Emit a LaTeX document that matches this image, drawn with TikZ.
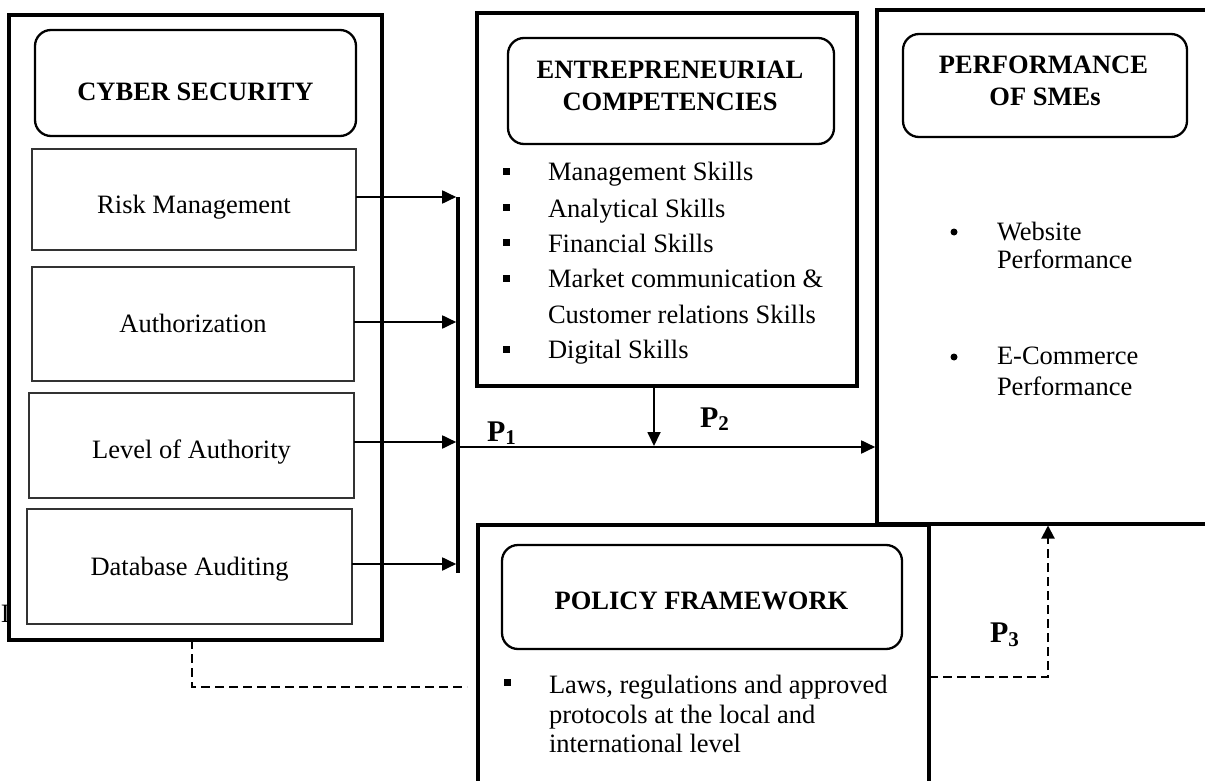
\documentclass[tikz,border=0pt]{standalone}
\usepackage{fontspec}
\setmainfont{Liberation Serif}
\usetikzlibrary{arrows.meta}
\begin{document}
\begin{tikzpicture}[x=1pt,y=-1pt,
  every node/.style={font=\fontsize{26.5}{35}\selectfont, inner sep=0pt, outer sep=0pt},
  frame/.style={draw, line width=3.5pt},
  titlebox/.style={draw, line width=2.3pt, rounded corners=16pt},
  titletext/.style={anchor=base, font=\fontsize{26.5}{32}\selectfont\bfseries},
  itembox/.style={draw=black!80, line width=1.3pt},
  itemtext/.style={anchor=base},
  listtext/.style={anchor=base west},
  sqbullet/.style={fill, minimum size=7pt},
  dotbullet/.style={fill, circle, minimum size=7pt},
  conn/.style={line width=1.8pt, -{Triangle[length=14pt,width=13pt]}},
  dashconn/.style={line width=1.6pt, dash pattern=on 9pt off 5pt},
  plabel/.style={anchor=base west, font=\fontsize{30}{30}\selectfont\bfseries},
]
\useasboundingbox (0,0) rectangle (1205,781);
\clip (0,0) rectangle (1205,781);

% stray glyph peeking out at the left edge
\node[listtext] (strayglyph) at (1,622) {I};

% ---- Cyber security column ----
\node[frame, minimum width=373pt, minimum height=625pt] (cyberframe) at (195.5,327.5) {};
\node[titlebox, minimum width=321pt, minimum height=106pt] (cybertitle) at (195.5,83) {};
\node[titletext] (cybertitletext) at (195.5,101) {CYBER SECURITY};
\node[itembox, minimum width=324pt, minimum height=101pt] (risk) at (194,199.5) {};
\node[itembox, minimum width=322pt, minimum height=114pt] (auth) at (193,324) {};
\node[itembox, minimum width=325pt, minimum height=105pt] (level) at (191.5,445.5) {};
\node[itembox, minimum width=325pt, minimum height=115pt] (audit) at (189.5,566.5) {};
\node[itemtext] (risktext) at (194,213) {Risk Management};
\node[itemtext] (authtext) at (193,332) {Authorization};
\node[itemtext] (leveltext) at (191.5,458) {Level of Authority};
\node[itemtext] (audittext) at (189.5,575) {Database Auditing};

% ---- Entrepreneurial competencies ----
\node[frame, minimum width=380pt, minimum height=373pt] (entreframe) at (667,199.5) {};
\node[titlebox, minimum width=326pt, minimum height=106pt] (entretitle) at (671,91) {};
\node[titletext] (entretitleA) at (670,79) {ENTREPRENEURIAL};
\node[titletext] (entretitleB) at (670,111) {COMPETENCIES};
\node[sqbullet] (eb1) at (506,172) {};
\node[sqbullet] (eb2) at (506,207) {};
\node[sqbullet] (eb3) at (506,242) {};
\node[sqbullet] (eb4) at (506,278) {};
\node[sqbullet] (eb5) at (506,349) {};
\node[listtext] (es1) at (548,181) {Management Skills};
\node[listtext] (es2) at (548,217) {Analytical Skills};
\node[listtext] (es3) at (548,252) {Financial Skills};
\node[listtext] (es4) at (548,287) {Market communication \&};
\node[listtext] (es4b) at (548,323) {Customer relations Skills};
\node[listtext] (es5) at (548,358) {Digital Skills};

% ---- Performance of SMEs ----
\node[frame, minimum width=338pt, minimum height=514pt] (perfframe) at (1046,267) {};
\node[titlebox, minimum width=284pt, minimum height=103pt] (perftitle) at (1045,85.5) {};
\node[titletext] (perftitleA) at (1043.5,74) {PERFORMANCE};
\node[titletext] (perftitleB) at (1045,106) {OF SMEs};
\node[dotbullet] (pb1) at (954,232) {};
\node[dotbullet] (pb2) at (954,357) {};
\node[listtext] (pw1) at (997,240) {Website};
\node[listtext] (pw2) at (997,268) {Performance};
\node[listtext] (pe1) at (997,364) {E-Commerce};
\node[listtext] (pe2) at (997,395) {Performance};

% ---- Policy framework ----
\node[frame, minimum width=451pt, minimum height=275pt] (policyframe) at (703.5,662.5) {};
\node[frame, minimum width=286pt, minimum height=276pt] (cornerframe) at (1072,662) {};
\node[titlebox, minimum width=400pt, minimum height=104pt] (policytitle) at (702,597) {};
\node[titletext] (policytitletext) at (701.5,609) {POLICY FRAMEWORK};
\node[sqbullet] (lb1) at (507,682) {};
\node[listtext] (pl1) at (549,693) {Laws, regulations and approved};
\node[listtext] (pl2) at (549,723) {protocols at the local and};
\node[listtext] (pl3) at (549,752) {international level};

% ---- collector bar and arrows ----
\coordinate (bartop) at (458,197);
\coordinate (barbot) at (458,573);
\draw[line width=3.5pt] (bartop) -- (barbot);
\coordinate (in1) at (458,197);
\coordinate (in2) at (458,322);
\coordinate (in3) at (458,442);
\coordinate (in4) at (458,564);
\draw[conn, shorten >=1.8pt] (risk.east |- in1) -- (in1);
\draw[conn, shorten >=1.8pt] (auth.east |- in2) -- (in2);
\draw[conn, shorten >=1.8pt] (level.east |- in3) -- (in3);
\draw[conn, shorten >=1.8pt] (audit.east |- in4) -- (in4);

\coordinate (p1start) at (458,447);
\coordinate (pjoin) at (654,447);
\draw[conn, shorten >=1.8pt] (p1start) -- (p1start -| perfframe.west);
\draw[conn, shorten >=1pt] (entreframe.south -| pjoin) -- (pjoin);

% ---- dashed links ----
\coordinate (dl) at (192,687);
\draw[dashconn, shorten >=11pt] (cyberframe.south -| dl) -- (dl) -- (dl -| policyframe.west);
\coordinate (dr) at (1048,677);
\draw[dashconn, line width=2pt, -{Triangle[length=13pt,width=13pt]}, shorten >=1.5pt]
  (policyframe.east |- dr) -- (dr) -- (dr |- perfframe.south);

% ---- path labels ----
\node[plabel] (lab1) at (487,441) {P\raisebox{-3pt}{\fontsize{21}{21}\selectfont 1}};
\node[plabel] (lab2) at (700,427) {P\raisebox{-3pt}{\fontsize{21}{21}\selectfont 2}};
\node[plabel] (lab3) at (990,642) {P\raisebox{-4pt}{\fontsize{21}{21}\selectfont 3}};
\end{tikzpicture}
\end{document}
